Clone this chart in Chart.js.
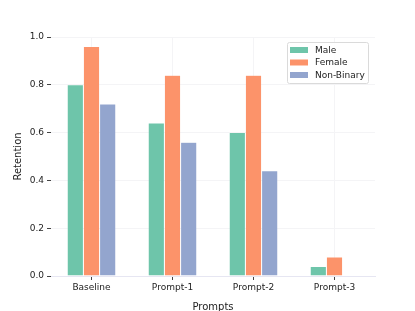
<!DOCTYPE html>
<html>
<head>
<meta charset="utf-8">
<script src="https://cdn.jsdelivr.net/npm/chart.js@4.4.0/dist/chart.umd.min.js"></script>
<style>
  html, body { margin: 0; padding: 0; background: #fff; }
  #wrap { width: 415px; height: 311px; }
</style>
</head>
<body>
<div id="wrap"><canvas id="retentionChart" width="415" height="311"></canvas></div>
<script>
// retention by gender per prompt
const prompts = ["Baseline", "Prompt-1", "Prompt-2", "Prompt-3"];
const male = [0.80, 0.64, 0.60, 0.04];
const female = [0.96, 0.84, 0.84, 0.08];
const nonBinary = [0.72, 0.56, 0.44, 0.00];
const yTicks = [0.0, 0.2, 0.4, 0.6, 0.8, 1.0];

const font = "'DejaVu Sans', sans-serif";

// legend box drawn in the upper right of the plot area
const insideLegend = {
    id: "insideLegend",
    afterDraw(chart) {
        const ctx = chart.ctx;
        const area = chart.chartArea;
        const x = area.right - 88, y = area.top + 5, w = 81, h = 41;
        ctx.save();
        ctx.fillStyle = "rgba(255,255,255,0.85)";
        ctx.strokeStyle = "#dadada";
        ctx.lineWidth = 1;
        ctx.beginPath();
        ctx.roundRect(x + 0.5, y + 0.5, w, h, 2);
        ctx.fill();
        ctx.stroke();
        ctx.font = "9px " + font;
        ctx.textBaseline = "middle";
        chart.data.datasets.forEach(function (ds, i) {
            const ry = y + 8 + i * 12.5;
            ctx.fillStyle = ds.backgroundColor;
            ctx.fillRect(x + 3, ry - 3, 18, 6);
            ctx.fillStyle = "#222";
            ctx.fillText(ds.label, x + 28, ry + 0.5);
        });
        ctx.restore();
    }
};

document.addEventListener("DOMContentLoaded", function () {
    const ctx = document.getElementById("retentionChart").getContext("2d");
    new Chart(ctx, {
        type: "bar",
        data: {
            labels: prompts,
            datasets: [
                { label: "Male", data: male, backgroundColor: "rgba(102,194,165,0.95)" },
                { label: "Female", data: female, backgroundColor: "rgba(252,141,98,0.95)" },
                { label: "Non-Binary", data: nonBinary, backgroundColor: "rgba(141,160,203,0.95)" }
            ].map(function (d) {
                d.borderColor = "rgba(255,255,255,0.35)";
                d.borderWidth = 0.5;
                d.categoryPercentage = 0.6;
                d.barPercentage = 1.0;
                return d;
            })
        },
        options: {
            responsive: false,
            animation: false,
            events: [],
            layout: { padding: { left: 0, right: 40, top: 37, bottom: 0 } },
            plugins: {
                legend: { display: false },
                tooltip: { enabled: false }
            },
            scales: {
                x: {
                    afterFit: function (s) { s.height = 35; },
                    grid: {
                        color: "#f4f4f6",
                        tickColor: "#444",
                        tickLength: 4,
                        offset: false
                    },
                    border: { color: "#e6e6f2" },
                    ticks: { color: "#222", font: { family: font, size: 9 }, padding: 2 },
                    title: { display: true, text: "Prompts", color: "#222", font: { family: font, size: 10 }, padding: { top: 0, bottom: -2 } }
                },
                y: {
                    min: 0,
                    max: 1.0,
                    afterFit: function (s) { s.width = 51; },
                    afterBuildTicks: function (s) { s.ticks = yTicks.map(function (v) { return { value: v }; }); },
                    grid: { color: "#f4f4f6", tickColor: "#444", tickLength: 4 },
                    border: { display: false },
                    ticks: {
                        color: "#222",
                        font: { family: font, size: 9 },
                        padding: 3,
                        callback: function (v) { return v.toFixed(1); }
                    },
                    title: { display: true, text: "Retention", color: "#222", font: { family: font, size: 10 }, padding: { top: 12, bottom: 0 } }
                }
            }
        },
        plugins: [insideLegend]
    });
});
</script>
</body>
</html>
